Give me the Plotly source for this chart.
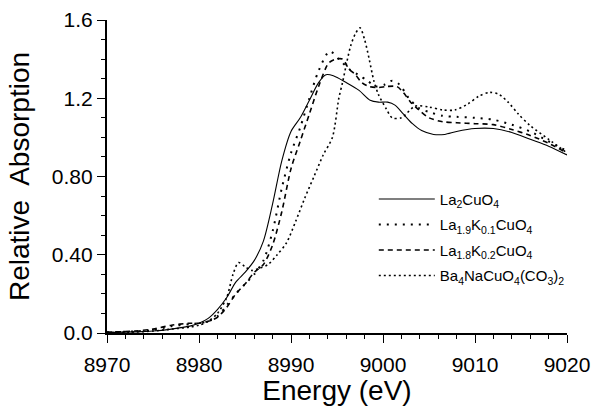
import plotly.graph_objects as go

# ---- data ----
E_la2 = [8970, 8973, 8975, 8977, 8979, 8980, 8981, 8982, 8983, 8984, 8985, 8986, 8987, 8988, 8989,
         8990, 8991, 8992, 8993, 8993.8, 8994.6, 8996, 8997.4, 8998.6, 8999.5, 9000.5, 9001.3, 9002.2,
         9003.2, 9004.2, 9005.5, 9006.7, 9008, 9010, 9012, 9014, 9016, 9018, 9020]
A_la2 = [0.003, 0.006, 0.01, 0.02, 0.035, 0.05, 0.075, 0.12, 0.18, 0.26, 0.31, 0.37, 0.47, 0.66, 0.88,
         1.03, 1.10, 1.19, 1.28, 1.32, 1.315, 1.28, 1.24, 1.19, 1.18, 1.18, 1.165, 1.12,
         1.07, 1.035, 1.015, 1.015, 1.03, 1.045, 1.045, 1.025, 0.99, 0.955, 0.91]

E_k01 = [8970, 8973, 8975, 8977, 8979, 8980, 8981, 8982, 8983, 8984, 8985, 8986, 8987, 8988, 8989,
         8990, 8991, 8992, 8993, 8994.2, 8995.2, 8996.3, 8997.3, 8998.3, 8999.2, 9000.2, 9001, 9001.8,
         9002.8, 9003.9, 9005, 9006.5, 9008, 9010, 9012, 9014, 9016, 9018, 9020]
A_k01 = [0.004, 0.008, 0.015, 0.035, 0.045, 0.05, 0.06, 0.085, 0.14, 0.20, 0.25, 0.30, 0.37, 0.52, 0.74,
         0.92, 1.05, 1.20, 1.34, 1.44, 1.40, 1.35, 1.32, 1.29, 1.26, 1.27, 1.29, 1.27,
         1.20, 1.15, 1.13, 1.11, 1.105, 1.10, 1.09, 1.065, 1.03, 0.98, 0.93]

E_k02 = [8970, 8973, 8975, 8977, 8979, 8980, 8981, 8982, 8983, 8984, 8985, 8986, 8987, 8988, 8989,
         8990, 8991, 8992, 8993, 8994.1, 8994.9, 8995.6, 8996.3, 8997, 8997.7, 8998.5, 8999.5, 9000.4,
         9001.5, 9002.2, 9003, 9003.9, 9005, 9006.5, 9008, 9010, 9012, 9014, 9016, 9018, 9020]
A_k02 = [0.004, 0.01, 0.02, 0.04, 0.05, 0.05, 0.06, 0.08, 0.13, 0.20, 0.25, 0.31, 0.35, 0.45, 0.62,
         0.84, 0.98, 1.12, 1.26, 1.38, 1.40, 1.40, 1.35, 1.32, 1.28, 1.26, 1.255, 1.26,
         1.26, 1.23, 1.18, 1.14, 1.10, 1.08, 1.075, 1.07, 1.065, 1.04, 1.01, 0.97, 0.92]

E_ba = [8970, 8973, 8975, 8977, 8979, 8980, 8981, 8982, 8983, 8983.7, 8984.3, 8985, 8985.7, 8986.5,
        8987.5, 8988.5, 8989.5, 8990.5, 8991.5, 8992.5, 8993.5, 8994.5, 8995.2, 8995.6, 8996, 8996.5,
        8997, 8997.5, 8998, 8998.5, 8999, 8999.5, 9000.3, 9001, 9002, 9003.5, 9005, 9006.5, 9007.8,
        9009.2, 9010.4, 9011.6, 9012.6, 9013.6, 9014.7, 9016, 9018, 9020]
A_ba = [0.002, 0.005, 0.01, 0.02, 0.03, 0.04, 0.06, 0.10, 0.18, 0.30, 0.36, 0.34, 0.32, 0.33,
        0.35, 0.40, 0.46, 0.57, 0.69, 0.80, 0.91, 1.00, 1.20, 1.28, 1.37, 1.47,
        1.53, 1.56, 1.50, 1.40, 1.29, 1.22, 1.15, 1.10, 1.10, 1.16, 1.155, 1.14, 1.14,
        1.17, 1.21, 1.23, 1.22, 1.18, 1.12, 1.06, 0.99, 0.92]

names = ["La<sub>2</sub>CuO<sub>4</sub>",
         "La<sub>1.9</sub>K<sub>0.1</sub>CuO<sub>4</sub>",
         "La<sub>1.8</sub>K<sub>0.2</sub>CuO<sub>4</sub>",
         "Ba<sub>4</sub>NaCuO<sub>4</sub>(CO<sub>3</sub>)<sub>2</sub>"]

y_tickvals = [0.0, 0.4, 0.8, 1.2, 1.6]
y_ticktext = ["0.0", "0.40", "0.80", "1.2", "1.6"]
x_tickvals = [8970, 8980, 8990, 9000, 9010, 9020]

series = [
    (E_la2, A_la2, names[0], "solid", 1.1),
    (E_k01, A_k01, names[1], "2px,6px", 2.0),
    (E_k02, A_k02, names[2], "5px,4px", 1.6),
    (E_ba, A_ba, names[3], "2px,3px", 1.6),
]

fig = go.Figure()
for i, (ex, ay, nm, dash, w) in enumerate(series):
    fig.add_trace(go.Scatter(
        x=ex, y=ay, name=nm, mode="lines", legendgroup=str(i),
        line=dict(color="black", width=w, dash=dash, shape="spline", smoothing=0.8),
    ))

font_family = "Liberation Sans, Arial, sans-serif"
fig.update_layout(
    width=594, height=406,
    margin=dict(l=107, r=27, t=20, b=73, autoexpand=False),
    paper_bgcolor="white", plot_bgcolor="white",
    font=dict(family=font_family, color="black"),
    showlegend=True,
    legend=dict(x=0.58, y=0.48, xanchor="left", yanchor="top",
                font=dict(size=15, family=font_family),
                bgcolor="rgba(0,0,0,0)", tracegroupgap=3, itemwidth=56),
)
fig.update_xaxes(
    range=[8970, 9020], tickvals=x_tickvals, ticks="outside", ticklen=8, tickwidth=1.2,
    tickcolor="black", showline=True, linecolor="black", linewidth=2.2, showgrid=False,
    zeroline=False, tickfont=dict(size=21), automargin=False, ticklabelstandoff=4,
    minor=dict(dtick=2, ticks="outside", ticklen=4, tickwidth=1, tickcolor="black"),
    title=dict(text="Energy (eV)", font=dict(size=28), standoff=9),
)
fig.update_yaxes(
    range=[0, 1.6], tickvals=y_tickvals, ticktext=y_ticktext, ticks="outside", ticklen=8,
    tickwidth=1.2, tickcolor="black", showline=True, linecolor="black", linewidth=2.2,
    showgrid=False, zeroline=False, tickfont=dict(size=21), automargin=False,
    minor=dict(tickvals=[0.1, 0.2, 0.3, 0.5, 0.6, 0.7, 0.9, 1.0, 1.1, 1.3, 1.4, 1.5],
               ticks="outside", ticklen=4, tickwidth=1, tickcolor="black"),
    title=dict(text="Relative  Absorption", font=dict(size=28), standoff=14),
)

fig.write_html(
    "out.html",
    config={"displayModeBar": False},
    post_script="document.body.style.margin='0';document.body.style.overflow='hidden';",
)
